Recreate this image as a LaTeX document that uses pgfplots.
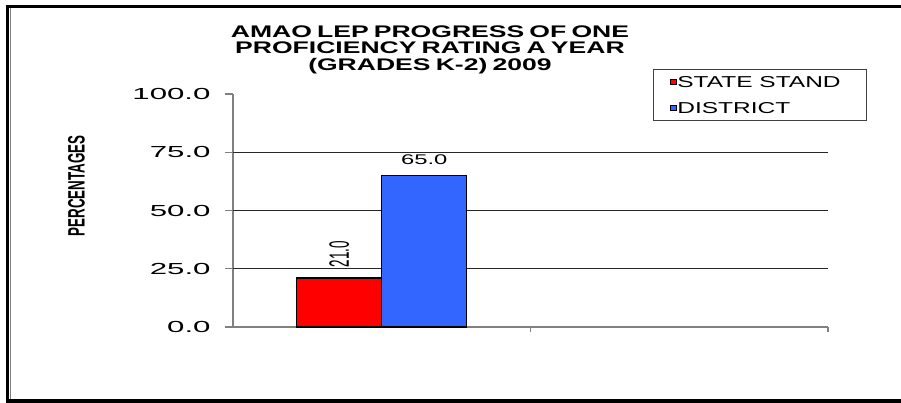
\documentclass[border=0pt]{standalone}
\usepackage{pgfplots}
\pgfplotsset{compat=1.18}
\usepackage{fontspec}
\setmainfont{Liberation Sans}
\newfontfamily\tickfont[FakeStretch=1.95]{Liberation Sans}
\newfontfamily\legfont[FakeStretch=1.55]{Liberation Sans}
\newfontfamily\titlefont[FakeStretch=1.58,WordSpace=0.7]{Liberation Sans}
\newfontfamily\ylabfont[FakeStretch=0.565]{Liberation Sans}
\newfontfamily\lblfont[FakeStretch=1.7]{Liberation Sans}
\newfontfamily\rotlblfont[FakeStretch=0.48]{Liberation Sans}
\definecolor{barred}{RGB}{255,0,0}
\definecolor{barblue}{RGB}{51,102,255}

\begin{document}
\begin{tikzpicture}
\useasboundingbox (0,0) rectangle (901pt,403pt);
\draw[line width=3.5pt] (7.5pt,2pt) -- (7.5pt,396.5pt);
\draw[line width=3.5pt] (5.75pt,396.5pt) -- (901pt,396.5pt);
\draw[line width=4pt] (5.75pt,2pt) -- (901pt,2pt);
\draw[black!50, line width=1.5pt] (10.5pt,4pt) -- (10.5pt,394.75pt);

\begin{axis}[
  at={(233pt,76pt)}, anchor=south west,
  scale only axis, width=595pt, height=233pt,
  xmin=-0.5, xmax=1.5, ymin=0, ymax=100,
  ybar=0pt, bar width=85pt,
  clip=false,
  axis x line=bottom, axis y line=left,
  axis line style={-, draw=black!50, line width=1.3pt},
  tick align=outside,
  xtick={0.5,1.5}, xticklabels={},
  x tick style={draw=black!50, line width=1.2pt},
  xtick style={/pgfplots/major tick length=5pt},
  ytick={0,25,50,75,100},
  y tick style={draw=black!50, line width=1.2pt},
  ytick style={/pgfplots/major tick length=8pt},
  yticklabel style={font=\tickfont\fontsize{16}{16}\selectfont, inner sep=0pt, xshift=-18pt,
    /pgf/number format/.cd, fixed, fixed zerofill, precision=1, assume math mode=true},
  extra y ticks={25,50,75},
  extra y tick labels={},
  extra y tick style={ymajorgrids=true, major tick length=0pt},
  major grid style={draw=black!85, line width=0.8pt},
  ylabel={PERCENTAGES},
  ylabel style={at={(axis description cs:-0.263,0.605)}, anchor=center, inner sep=0pt,
    font=\ylabfont\bfseries\fontsize{23.7}{24}\selectfont},
  title={AMAO LEP PROGRESS OF ONE\\PROFICIENCY RATING A YEAR\\(GRADES K-2) 2009},
  title style={at={(axis description cs:0.331,1.268)}, anchor=north, align=center, inner sep=0pt,
    font=\titlefont\bfseries\fontsize{16.8}{16.5}\selectfont},
  legend style={at={(axis description cs:0.706,1.107)}, anchor=north west,
    draw=black!75, line width=0.9pt, inner xsep=16pt, inner ysep=6.85pt, row sep=14.7pt,
    font=\legfont\fontsize{15.8}{16}\selectfont,
    nodes={inner sep=0pt, text height=11.3pt, text depth=0pt},
    /tikz/every odd column/.style={column sep=1pt}},
  legend cell align=left,
]
\addplot[fill=barred, draw=black, line width=1.2pt,
  legend image code/.code={\draw[fill=barred, draw=black, line width=0.8pt] (0pt,-2.75pt) rectangle (6pt,2.75pt);},
  nodes near coords={\pgfmathprintnumber[fixed,fixed zerofill,precision=1,assume math mode=true]{\pgfplotspointmeta}},
  nodes near coords style={rotate=90, anchor=west, inner xsep=10pt, inner ysep=0pt, black,
    font=\rotlblfont\fontsize{28}{28}\selectfont}]
  coordinates {(0,21.0)};
\addlegendentry{STATE STAND\hspace*{10pt}}
\addplot[fill=barblue, draw=black, line width=1.2pt,
  legend image code/.code={\draw[fill=barblue, draw=black, line width=0.8pt] (0pt,-2.75pt) rectangle (6pt,2.75pt);},
  nodes near coords={\pgfmathprintnumber[fixed,fixed zerofill,precision=1,assume math mode=true]{\pgfplotspointmeta}},
  nodes near coords style={anchor=south, inner ysep=10pt, inner xsep=0pt, black,
    font=\lblfont\fontsize{14}{14}\selectfont}]
  coordinates {(0,65.0)};
\addlegendentry{DISTRICT}
\end{axis}
\end{tikzpicture}
\end{document}
